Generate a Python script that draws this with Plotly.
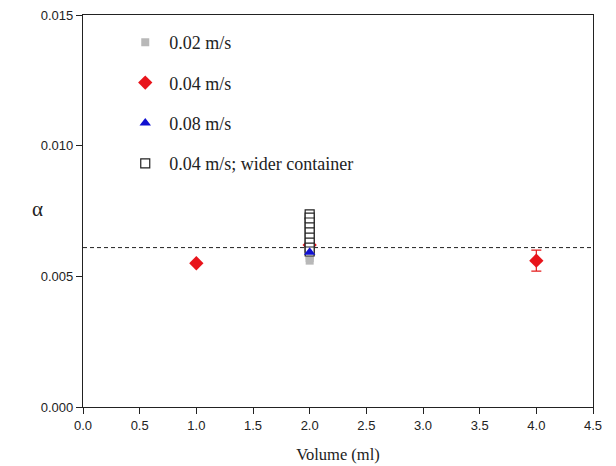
import plotly.graph_objects as go

# Measured absorption coefficient alpha versus filled volume
vol_002 = [2.0, 2.0, 2.0]
alpha_002 = [0.0058, 0.0057, 0.0056]

vol_004 = [1.0, 2.0, 4.0]
alpha_004 = [0.0055, 0.0062, 0.0056]
err_004 = [0.0, 0.0, 0.0004]

vol_008 = [2.0]
alpha_008 = [0.00592]

vol_wide = [2.0] * 9
alpha_wide = [0.00737, 0.00725, 0.00706, 0.00687, 0.00668, 0.00648, 0.00629, 0.0061, 0.00595]

alpha_mean = 0.0061
x_range = [0.0, 4.5]
x_ticks = [0.0, 0.5, 1.0, 1.5, 2.0, 2.5, 3.0, 3.5, 4.0, 4.5]
y_ticks = [0.000, 0.005, 0.010, 0.015]

fig = go.Figure()

fig.add_trace(go.Scatter(
    x=x_range, y=[alpha_mean, alpha_mean], mode="lines",
    line=dict(color="#222222", width=1, dash="4px,3px"),
    showlegend=False, hoverinfo="skip"))

fig.add_trace(go.Scatter(
    x=vol_002, y=alpha_002, mode="markers", name="0.02 m/s",
    legendgroup="a", legendrank=1,
    marker=dict(symbol="square", size=8, color="#b8b8b8")))

fig.add_trace(go.Scatter(
    x=vol_004, y=alpha_004, mode="markers", name="0.04 m/s",
    legendgroup="b", legendrank=2,
    error_y=dict(type="data", array=err_004, color="#e41a1a", thickness=1.2, width=5),
    marker=dict(symbol="diamond", size=11, color="#e8141b")))

# wider-container points sit above the red diamond at 2 ml
fig.add_trace(go.Scatter(
    x=vol_wide, y=alpha_wide, mode="markers", name="0.04 m/s; wider container",
    legendgroup="d", legendrank=4,
    marker=dict(symbol="square", size=9, color="white",
                line=dict(width=1.2, color="#222222"))))

fig.add_trace(go.Scatter(
    x=vol_008, y=alpha_008, mode="markers", name="0.08 m/s",
    legendgroup="c", legendrank=3,
    marker=dict(symbol="triangle-up", size=10, color="#1010d0")))

fig.update_layout(
    width=616, height=466,
    margin=dict(l=83, r=23, t=15, b=59),
    paper_bgcolor="white", plot_bgcolor="white",
    font=dict(family="Liberation Sans, Arial", size=13, color="#222222"),
    legend=dict(
        x=0.075, y=0.977, xanchor="left", yanchor="top",
        font=dict(family="Liberation Serif, Times New Roman", size=18, color="#222222"),
        tracegroupgap=14, traceorder="grouped", itemwidth=38,
        bgcolor="rgba(0,0,0,0)"),
    xaxis=dict(
        range=x_range, tickvals=x_ticks, ticktext=[f"{v:.1f}" for v in x_ticks],
        ticks="outside", ticklen=6, tickwidth=1, tickcolor="#222222",
        showline=True, linecolor="#222222", linewidth=1.2, mirror=True,
        showgrid=False, zeroline=False, automargin=False,
        title=dict(text="Volume (ml)",
                   font=dict(family="Liberation Serif, Times New Roman", size=16.5),
                   standoff=16)),
    yaxis=dict(
        range=[0, 0.015], tickvals=y_ticks, ticktext=[f"{v:.3f}" for v in y_ticks],
        ticks="outside", ticklen=6, tickwidth=1, tickcolor="#222222",
        showline=True, linecolor="#222222", linewidth=1.2, mirror=True,
        showgrid=False, zeroline=False, automargin=False),
    annotations=[dict(
        text="α", xref="paper", yref="paper", x=-0.075, y=0.505,
        xanchor="right", yanchor="middle", showarrow=False,
        font=dict(family="Liberation Serif, Times New Roman", size=21, color="#222222"))],
)

fig.write_html("out.html")
